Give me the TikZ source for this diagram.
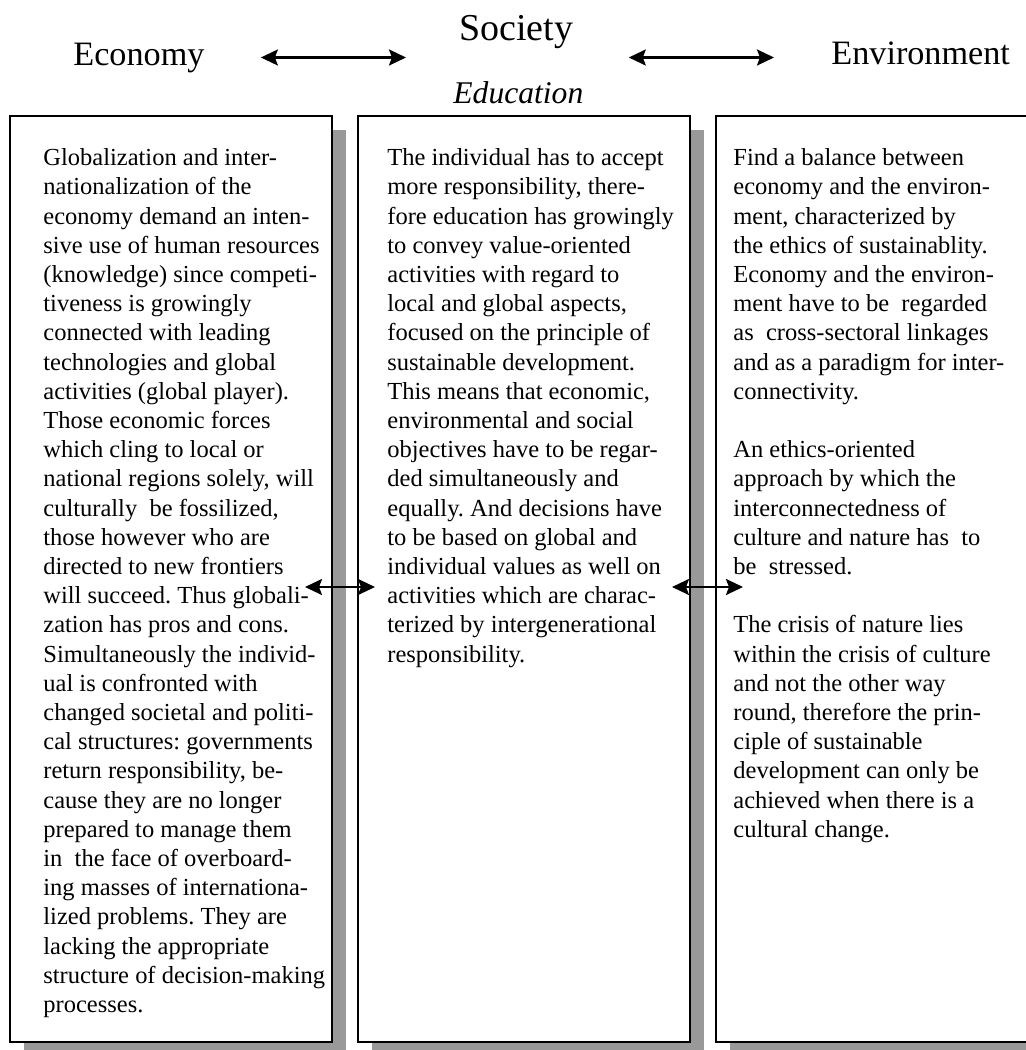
\documentclass[tikz,border=0pt]{standalone}
\usepackage{fontspec}
\setmainfont{Liberation Serif}
\usetikzlibrary{arrows.meta,shadows,positioning}
\definecolor{shadowgray}{gray}{0.6}
\frenchspacing

\begin{document}
\begin{tikzpicture}[x=0.5pt,y=-0.5pt,
    head/.style={anchor=base west,inner sep=0,font=\fontsize{17.1}{20}\selectfont},
    twoway/.style={{Stealth[length=8.5pt,width=8pt,inset=1.5pt]}-{Stealth[length=8.5pt,width=8pt,inset=1.5pt]},line width=1.2pt},
    box/.style={draw,line width=1pt,fill=white,anchor=north west,inner sep=0,outer sep=0,
        minimum height=463pt,general shadow={fill=shadowgray,shadow xshift=7pt,shadow yshift=-7pt}},
    body/.style={anchor=north west,align=left,inner sep=0,font=\fontsize{12.25}{14.6}\selectfont}]
    \useasboundingbox (0,0) rectangle (1025,1050);

    \node[head] (econ) at (73,65) {Economy};
    \node[head,font=\fontsize{19}{22}\selectfont] (soc) at (459,40) {Society};
    \node[head] (env) at (831,64) {Environment};
    \node[head,font=\fontsize{15.8}{18}\selectfont\itshape] (edu) at (453,103) {Education};

    \draw[twoway] ([xshift=28pt]econ.east) -- ([xshift=-26.5pt]econ.east -| soc.west);
    \draw[twoway] ([xshift=27.5pt]econ.east -| soc.east) -- ([xshift=-28.5pt]econ.east -| env.west);

    \node[box,minimum width=161pt] (lbox) at (10,116) {};
    \node[box,minimum width=166pt] (mbox) at (358,116) {};
    \node[box,minimum width=166pt] (rbox) at (716,116) {};

    \node[body] (ltext) at ([xshift=16.5pt,yshift=-16.1pt]lbox.north west) {%
        Globalization and inter-\\
        nationalization of the\\
        economy demand an inten-\\
        sive use of human resources\\
        (knowledge) since competi-\\
        tiveness is growingly\\
        connected with leading\\
        technologies and global\\
        activities (global player).\\
        Those economic forces\\
        which cling to local or\\
        national regions solely, will\\
        culturally~ be fossilized,\\
        those however who are\\
        directed to new frontiers\\
        will succeed. Thus globali-\\
        zation has pros and cons.\\
        Simultaneously the individ-\\
        ual is confronted with\\
        changed societal and politi-\\
        cal structures: governments\\
        return responsibility, be-\\
        cause they are no longer\\
        prepared to manage them\\
        in~ the face of overboard-\\
        ing masses of internationa-\\
        lized problems. They are\\
        lacking the appropriate\\
        structure of decision-making\\
        processes.};
    \node[body] (mtext) at ([xshift=14.5pt,yshift=-16.1pt]mbox.north west) {%
        The individual has to accept\\
        more responsibility, there-\\
        fore education has growingly\\
        to convey value-oriented\\
        activities with regard to\\
        local and global aspects,\\
        focused on the principle of\\
        sustainable development.\\
        This means that economic,\\
        environmental and social\\
        objectives have to be regar-\\
        ded simultaneously and\\
        equally. And decisions have\\
        to be based on global and\\
        individual values as well on\\
        activities which are charac-\\
        terized by intergenerational\\
        responsibility.};
    \node[body] (rtext) at ([xshift=8.5pt,yshift=-16.1pt]rbox.north west) {%
        Find a balance between\\
        economy and the environ-\\
        ment, characterized by\\
        the ethics of sustainablity.\\
        Economy and the environ-\\
        ment have to be~ regarded\\
        as~ cross-sectoral linkages\\
        and as a paradigm for inter-\\
        connectivity.\\[14.6pt]
        An ethics-oriented\\
        approach by which the\\
        interconnectedness of\\
        culture and nature has~ to\\
        be~ stressed.\\[14.6pt]
        The crisis of nature lies\\
        within the crisis of culture\\
        and not the other way\\
        round, therefore the prin-\\
        ciple of sustainable\\
        development can only be\\
        achieved when there is a\\
        cultural change.};

    \coordinate (link) at (0,587);
    \draw[twoway] ([xshift=-13.5pt]lbox.east |- link) -- ([xshift=8.5pt]mbox.west |- link);
    \draw[twoway] ([xshift=-9pt]mbox.east |- link) -- ([xshift=13.5pt]rbox.west |- link);
\end{tikzpicture}
\end{document}
